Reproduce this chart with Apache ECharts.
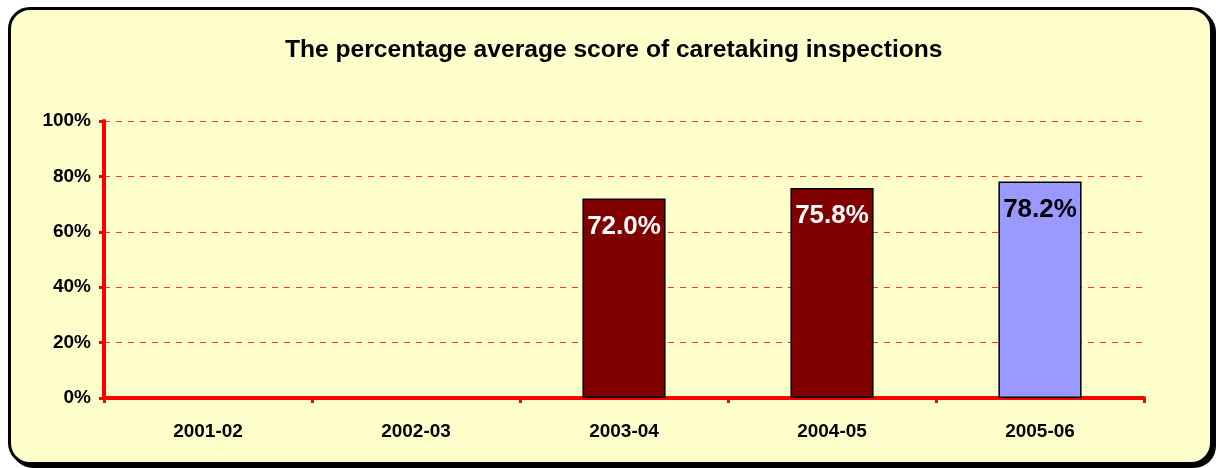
<!DOCTYPE html>
<html>
<head>
<meta charset="utf-8">
<script src="https://cdn.jsdelivr.net/npm/echarts@6/dist/echarts.min.js"></script>
<style>
  html, body { margin: 0; padding: 0; background: #fff; }
  #frame {
    position: absolute; left: 8px; top: 7px; width: 1199px; height: 452px;
    border: 3px solid #000; border-radius: 22px; background: #FFFFCC;
    box-shadow: 3px 3px 0 #000;
  }
  #chart { position: absolute; left: 0; top: 0; width: 1216px; height: 468px; }
</style>
</head>
<body>
<div id="frame"></div>
<div id="chart"></div>
<script>
var years = ['2001-02', '2002-03', '2003-04', '2004-05', '2005-06'];
var scores = [null, null, 72.0, 75.8, 78.2];
var yTicks = [0, 20, 40, 60, 80, 100];

var chart = echarts.init(document.getElementById('chart'));
var lastIdx = years.length - 1;

var option = {
  backgroundColor: 'transparent',
  textStyle: { fontFamily: 'Liberation Sans, Arial, sans-serif' },
  title: {
    text: 'The percentage average score of caretaking inspections',
    left: 280,
    top: 33,
    textStyle: { fontSize: 24.6, fontWeight: 'bold', color: '#000' }
  },
  grid: { left: 104, right: 72, top: 121, bottom: 70 },
  xAxis: {
    type: 'category',
    data: years,
    axisLine: { lineStyle: { color: '#FF0000', width: 4 } },
    axisTick: { show: true, length: 5, lineStyle: { color: '#FF0000', width: 3 } },
    axisLabel: { margin: 24, fontSize: 19, fontWeight: 'bold', color: '#000' }
  },
  yAxis: {
    type: 'value',
    min: yTicks[0],
    max: yTicks[yTicks.length - 1],
    interval: yTicks[1] - yTicks[0],
    axisLine: { show: true, lineStyle: { color: '#FF0000', width: 4 } },
    axisTick: { show: true, length: 5, lineStyle: { color: '#FF0000', width: 3 } },
    axisLabel: {
      margin: 13, fontSize: 19, fontWeight: 'bold', color: '#000',
      formatter: function (v) { return v + '%'; }
    },
    splitLine: { lineStyle: { color: '#FF0000', type: [6, 6], width: 1, opacity: 0.8 } }
  },
  series: [{
    type: 'bar',
    barWidth: '40%',
    itemStyle: {
      borderColor: '#000',
      borderWidth: 1.5,
      color: function (p) { return p.dataIndex === lastIdx ? '#9999FF' : '#800000'; }
    },
    label: {
      show: true,
      position: 'insideTop',
      distance: 15,
      fontSize: 26,
      fontWeight: 'bold',
      color: '#fff',
      formatter: function (p) { return p.value == null ? '' : p.value.toFixed(1) + '%'; }
    },
    data: scores.map(function (v, i) {
      return i === lastIdx ? { value: v, label: { color: '#000' } } : v;
    })
  }]
};
chart.setOption(option);
window.addEventListener('resize', function () { chart.resize(); });
</script>
</body>
</html>
